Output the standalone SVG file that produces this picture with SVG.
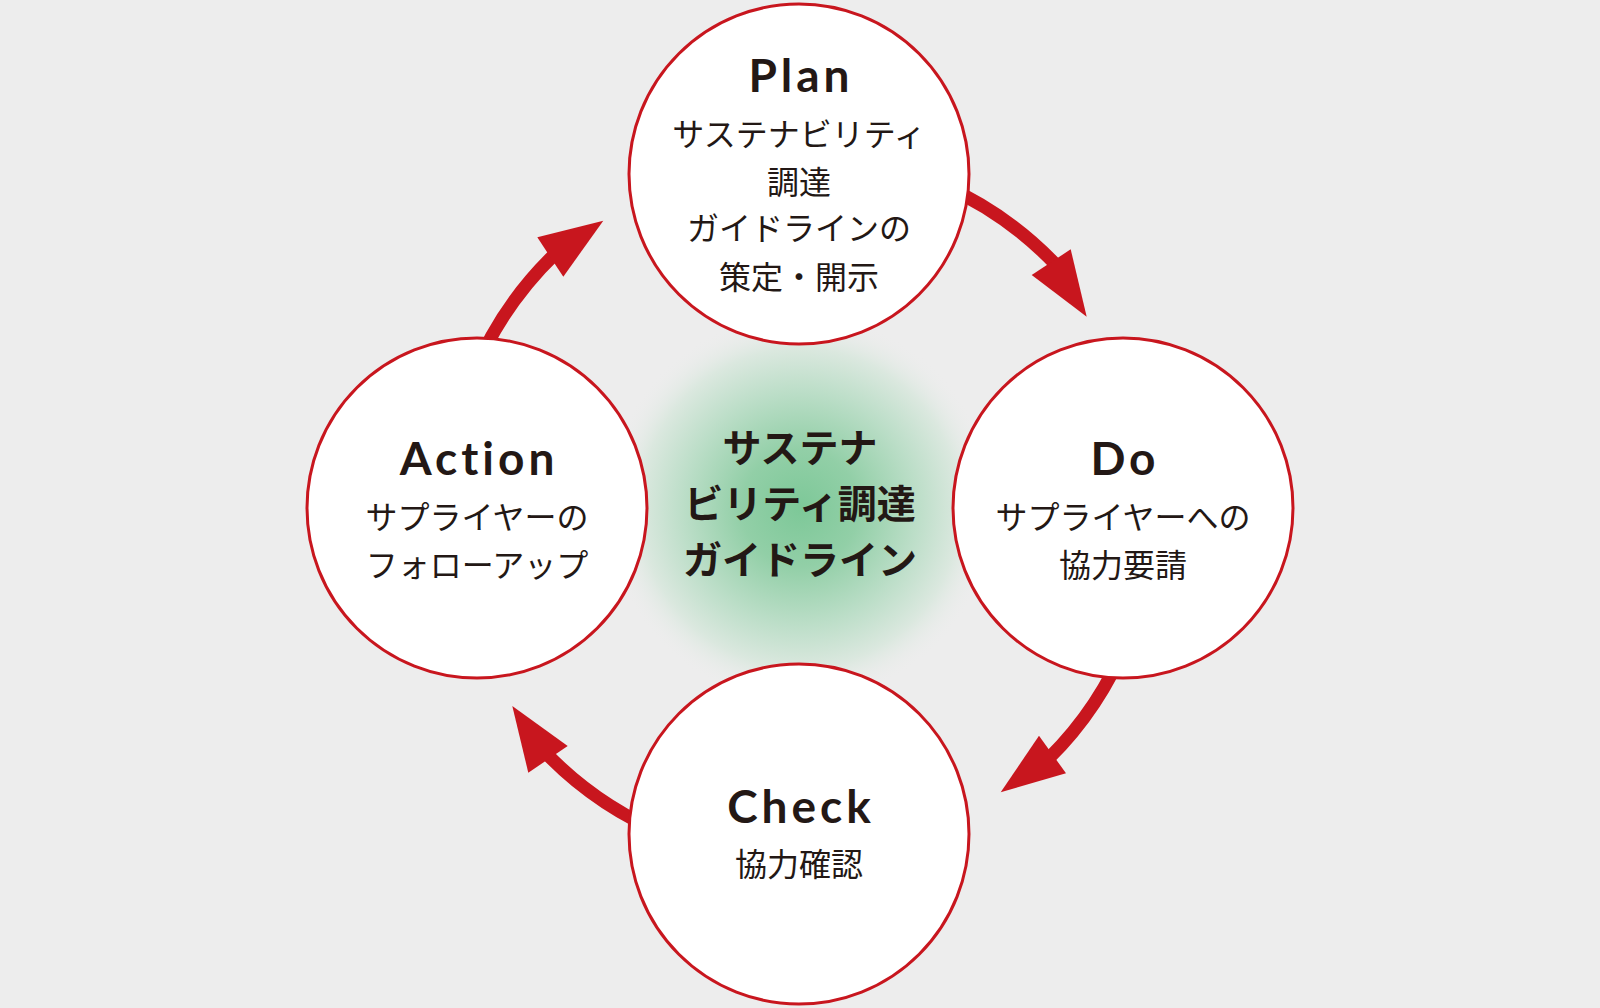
<svg xmlns="http://www.w3.org/2000/svg" width="1600" height="1008" viewBox="0 0 1600 1008">
  <defs>
    <radialGradient id="glow" cx="800" cy="508" r="195" gradientUnits="userSpaceOnUse">
      <stop offset="0" stop-color="#7dc898"/>
      <stop offset="0.3" stop-color="#92cfa7"/>
      <stop offset="0.6" stop-color="#bcdec8"/>
      <stop offset="0.82" stop-color="#dbe8df"/>
      <stop offset="1" stop-color="#ededed" stop-opacity="0"/>
    </radialGradient>
    <style>
      .node circle { fill: #ffffff; stroke: #c8161e; stroke-width: 3; }
      .title { font-family: Lato, "Noto Sans", "Liberation Sans", sans-serif; font-weight: 700; font-size: 46px; letter-spacing: 4px; fill: #231815; text-anchor: middle; }
      .body { font-family: "Noto Sans CJK JP", "Noto Sans", sans-serif; font-weight: 400; font-size: 32px; fill: #231815; text-anchor: middle; }
      .center { font-family: "Noto Sans CJK JP", "Noto Sans", sans-serif; font-weight: 700; font-size: 39px; fill: #231815; text-anchor: middle; }
      .shaft { fill: none; stroke: #c8161e; stroke-width: 13; }
      .head { fill: #c8161e; }
    </style>
  </defs>

  <rect x="0" y="0" width="1600" height="1008" fill="#ededed"/>

  <g id="center">
    <circle cx="800" cy="508" r="195" fill="url(#glow)"/>
    <text class="center" x="800" y="462">サステナ</text>
    <text class="center" x="800" y="518">ビリティ調達</text>
    <text class="center" x="800" y="574">ガイドライン</text>
  </g>

  <g id="connectors">
    <path class="shaft" d="M 943.6 185.5 A 353 353 0 0 1 1056.1 265.0"/>
    <polygon class="head" points="1031.7,275 1070.7,249.3 1086.7,316.7"/>
    <path class="shaft" d="M 1127.3 640.2 A 353 353 0 0 1 1048.3 758.9"/>
    <polygon class="head" points="1039,735.7 1066,773.3 1000.7,792.3"/>
    <path class="shaft" d="M 667.8 835.3 A 354 354 0 0 1 545.6 752.8"/>
    <polygon class="head" points="567.7,746 528.3,772.7 512.3,706"/>
    <path class="shaft" d="M 472.7 375.8 A 354 354 0 0 1 555.7 253.2"/>
    <polygon class="head" points="537.3,237.3 563.3,276.7 603.3,220.7"/>
  </g>

  <g id="plan" class="node">
    <circle cx="799" cy="174" r="170"/>
    <text class="title" x="801" y="92">Plan</text>
    <text class="body" x="799" y="146">サステナビリティ</text>
    <text class="body" x="799" y="194">調達</text>
    <text class="body" x="799" y="240">ガイドラインの</text>
    <text class="body" x="799" y="289">策定・開示</text>
  </g>

  <g id="do" class="node">
    <circle cx="1123" cy="508" r="170"/>
    <text class="title" x="1125" y="475">Do</text>
    <text class="body" x="1123" y="529">サプライヤーへの</text>
    <text class="body" x="1123" y="577">協力要請</text>
  </g>

  <g id="check" class="node">
    <circle cx="799" cy="834" r="170"/>
    <text class="title" x="801" y="823">Check</text>
    <text class="body" x="799" y="876">協力確認</text>
  </g>

  <g id="action" class="node">
    <circle cx="477" cy="508" r="170"/>
    <text class="title" x="479" y="475">Action</text>
    <text class="body" x="477" y="529">サプライヤーの</text>
    <text class="body" x="477" y="577">フォローアップ</text>
  </g>
</svg>
